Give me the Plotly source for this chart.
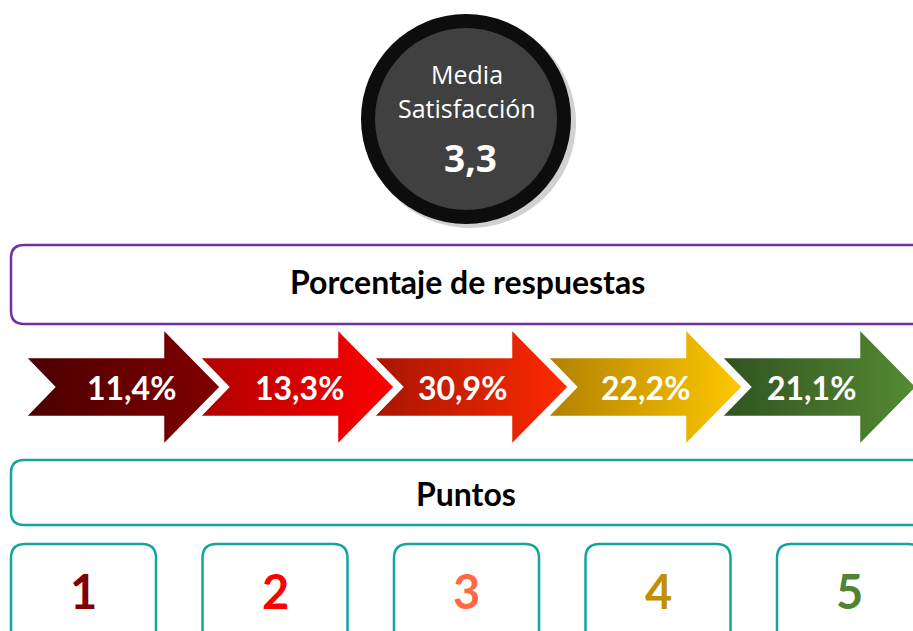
import plotly.graph_objects as go

# ── Data ─────────────────────────────────────────────────────────────────────
MEAN_LABEL = "3,3"
POINTS = ["1", "2", "3", "4", "5"]
PERCENTS = ["11,4%", "13,3%", "30,9%", "22,2%", "21,1%"]

# ── Palette ─────────────────────────────────────────────────────────────────
ARROW_GRADIENTS = [
    ("#4a0000", "#820000"),
    ("#b00000", "#ff0000"),
    ("#a81500", "#ff2a00"),
    ("#b08000", "#ffc800"),
    ("#2f5220", "#558b33"),
]
POINT_COLORS = ["#800000", "#ff0000", "#ff6a45", "#bf9000", "#548235"]
PURPLE = "#7030a0"
TEAL = "#12a5a0"
W, H = 913, 631
LABEL_DX = [106, 100, 89, 98, 90]  # label offset inside each arrow

fig = go.Figure()
shapes = []

# ── Centre circle ───────────────────────────────────────────────────────────
cx, cy = 466, 119
shapes.append(dict(type="circle", x0=cx - 102, y0=cy - 101, x1=cx + 110, y1=cy + 109,
                   fillcolor="rgba(0,0,0,0.18)", line_width=0, layer="below"))
shapes.append(dict(type="circle", x0=cx - 105, y0=cy - 105, x1=cx + 105, y1=cy + 105,
                   fillcolor="#0d0d0d", line_width=0))
shapes.append(dict(type="circle", x0=cx - 91, y0=cy - 91, x1=cx + 91, y1=cy + 91,
                   fillcolor="#404040", line_width=0))

# ── Header boxes ────────────────────────────────────────────────────────────
def rounded_rect(x0, y0, x1, y1, r):
    return (f"M{x0+r},{y0} L{x1-r},{y0} Q{x1},{y0} {x1},{y0+r} L{x1},{y1-r} "
            f"Q{x1},{y1} {x1-r},{y1} L{x0+r},{y1} Q{x0},{y1} {x0},{y1-r} "
            f"L{x0},{y0+r} Q{x0},{y0} {x0+r},{y0} Z")

shapes.append(dict(type="path", path=rounded_rect(11, 245, 925, 324, 13),
                   line=dict(color=PURPLE, width=2.5), fillcolor="white"))
shapes.append(dict(type="path", path=rounded_rect(11, 460, 925, 525, 13),
                   line=dict(color=TEAL, width=2.5), fillcolor="white"))

# ── Arrows ──────────────────────────────────────────────────────────────────
STEP = 174
for i, (pct, (c0, c1)) in enumerate(zip(PERCENTS, ARROW_GRADIENTS)):
    x0 = 25 + STEP * i
    xs = [x0, x0 + 138, x0 + 138, x0 + 196, x0 + 138, x0 + 138, x0, x0 + 29, x0]
    ys = [357, 357, 328, 387, 446, 417, 417, 387, 357]
    fig.add_trace(go.Scatter(
        x=xs, y=ys, mode="lines", fill="toself",
        fillgradient=dict(type="horizontal", colorscale=[[0, c0], [1, c1]]),
        line=dict(color="white", width=2.5),
        hoverinfo="skip", showlegend=False,
    ))
    fig.add_annotation(x=x0 + LABEL_DX[i], y=387, text=f"<b>{pct}</b>", showarrow=False,
                       font=dict(family="Lato", size=32, color="white"))

# ── Point boxes ─────────────────────────────────────────────────────────────
for i, (p, col) in enumerate(zip(POINTS, POINT_COLORS)):
    bx = 11 + 191.5 * i
    shapes.append(dict(type="path", path=rounded_rect(bx, 544, bx + 145, 660, 14),
                       line=dict(color=TEAL, width=2.5), fillcolor="white"))
    fig.add_annotation(x=bx + 72.5, y=591, text=f"<b>{p}</b>", showarrow=False,
                       font=dict(family="Lato", size=47, color=col))

# ── Texts ───────────────────────────────────────────────────────────────────
fig.add_annotation(x=cx + 1, y=74, text="Media", showarrow=False,
                   font=dict(family="Open Sans", size=25, color="white"))
fig.add_annotation(x=cx + 1, y=108, text="Satisfacción", showarrow=False,
                   font=dict(family="Open Sans", size=25, color="white"))
fig.add_annotation(x=cx + 4, y=157, text=f"<b>{MEAN_LABEL}</b>", showarrow=False,
                   font=dict(family="Open Sans", size=37, color="white"))
fig.add_annotation(x=467, y=281, text="<b>Porcentaje de respuestas</b>", showarrow=False,
                   font=dict(family="Lato", size=32, color="black"))
fig.add_annotation(x=466, y=493, text="<b>Puntos</b>", showarrow=False,
                   font=dict(family="Lato", size=32, color="black"))

fig.update_layout(
    width=W, height=H,
    margin=dict(l=0, r=0, t=0, b=0),
    paper_bgcolor="white", plot_bgcolor="white",
    shapes=shapes,
    xaxis=dict(range=[0, W], visible=False, fixedrange=True),
    yaxis=dict(range=[H, 0], visible=False, fixedrange=True),
    showlegend=False,
)
fig.write_html("out.html", config={"displayModeBar": False},
               post_script="document.body.style.margin='0';document.body.style.overflow='hidden';")
